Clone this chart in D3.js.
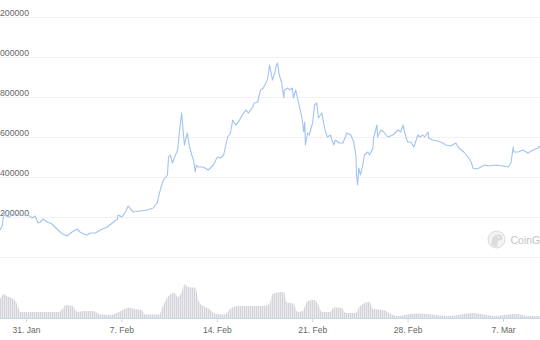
<!DOCTYPE html>
<html>
<head>
<meta charset="utf-8">
<script src="https://cdn.jsdelivr.net/npm/d3@7"></script>
<style>
  html, body { margin: 0; padding: 0; background: #fff; overflow: hidden; }
  svg { display: block; font-family: "Liberation Sans", Arial, sans-serif; }
</style>
</head>
<body>
<svg id="chart" width="540" height="340"></svg>
<script>
// --- data ---
const priceDates = [
  "2022-01-29 02","2022-01-29 06","2022-01-29 09","2022-01-29 13","2022-01-29 18","2022-01-30 01","2022-01-30 13",
  "2022-01-31 04","2022-01-31 11","2022-01-31 16","2022-01-31 21","2022-02-01 01","2022-02-01 06","2022-02-01 13",
  "2022-02-01 22","2022-02-02 03","2022-02-02 12","2022-02-02 17","2022-02-03 00","2022-02-03 09","2022-02-03 18",
  "2022-02-03 23","2022-02-04 05","2022-02-04 12","2022-02-04 17","2022-02-05 02","2022-02-05 11","2022-02-05 23",
  "2022-02-06 08","2022-02-06 17","2022-02-06 18","2022-02-07 01","2022-02-07 07","2022-02-07 12","2022-02-07 16",
  "2022-02-07 21","2022-02-08 09","2022-02-08 22","2022-02-09 08","2022-02-09 15","2022-02-09 19","2022-02-10 00",
  "2022-02-10 02","2022-02-10 09","2022-02-10 11","2022-02-10 14","2022-02-10 18","2022-02-10 21","2022-02-11 03",
  "2022-02-11 06","2022-02-11 10","2022-02-11 13","2022-02-11 15","2022-02-11 20","2022-02-12 00","2022-02-12 05",
  "2022-02-12 07","2022-02-12 10","2022-02-12 12","2022-02-12 15","2022-02-13 00","2022-02-13 09","2022-02-13 18",
  "2022-02-14 01","2022-02-14 06","2022-02-14 12","2022-02-14 19","2022-02-15 00","2022-02-15 04","2022-02-15 09",
  "2022-02-15 14","2022-02-15 21","2022-02-16 03","2022-02-16 08","2022-02-16 15","2022-02-16 18","2022-02-17 00",
  "2022-02-17 05","2022-02-17 10","2022-02-17 17","2022-02-17 21","2022-02-18 02","2022-02-18 06","2022-02-18 09",
  "2022-02-18 11","2022-02-18 14","2022-02-18 18","2022-02-18 22","2022-02-18 23","2022-02-19 05","2022-02-19 08",
  "2022-02-19 13","2022-02-19 15","2022-02-19 19","2022-02-20 00","2022-02-20 05","2022-02-20 07","2022-02-20 09",
  "2022-02-20 11","2022-02-20 12","2022-02-20 16","2022-02-20 19","2022-02-21 01","2022-02-21 04","2022-02-21 08",
  "2022-02-21 11","2022-02-21 17","2022-02-21 20","2022-02-22 00","2022-02-22 03","2022-02-22 08","2022-02-22 14",
  "2022-02-22 17","2022-02-22 23","2022-02-23 06","2022-02-23 13","2022-02-23 20","2022-02-24 01","2022-02-24 05",
  "2022-02-24 06","2022-02-24 08","2022-02-24 10","2022-02-24 13","2022-02-24 17","2022-02-24 20","2022-02-25 02",
  "2022-02-25 05","2022-02-25 11","2022-02-25 12","2022-02-25 18","2022-02-25 19","2022-02-26 01","2022-02-26 06",
  "2022-02-26 13","2022-02-26 22","2022-02-27 07","2022-02-27 12","2022-02-27 16","2022-02-27 17","2022-02-27 21",
  "2022-02-28 00","2022-02-28 06","2022-02-28 11","2022-02-28 14","2022-02-28 18","2022-02-28 22","2022-03-01 03",
  "2022-03-01 06","2022-03-01 12","2022-03-01 13","2022-03-01 20","2022-03-02 05","2022-03-02 14","2022-03-02 19",
  "2022-03-03 04","2022-03-03 13","2022-03-03 18","2022-03-04 03","2022-03-04 10","2022-03-04 16","2022-03-04 19",
  "2022-03-05 00","2022-03-05 06","2022-03-05 15","2022-03-05 23","2022-03-06 12","2022-03-07 00","2022-03-07 09",
  "2022-03-07 14","2022-03-07 18","2022-03-07 19","2022-03-08 03","2022-03-08 11","2022-03-08 20","2022-03-09 05",
  "2022-03-09 14","2022-03-09 19"
];
const priceValues = [
  135000,155000,225000,205000,200000,215000,210000,
  210000,195000,205000,170000,175000,190000,175000,
  165000,150000,125000,115000,105000,125000,140000,
  125000,115000,110000,120000,120000,135000,150000,
  170000,190000,210000,200000,225000,255000,240000,
  225000,230000,235000,245000,270000,320000,370000,
  385000,410000,500000,510000,470000,495000,535000,
  620000,720000,620000,560000,620000,550000,500000,
  485000,425000,460000,450000,450000,435000,460000,
  500000,495000,510000,600000,620000,685000,660000,
  675000,710000,735000,720000,750000,770000,775000,
  835000,845000,885000,960000,885000,920000,960000,
  970000,910000,875000,795000,835000,845000,835000,
  845000,795000,835000,770000,710000,675000,625000,
  675000,560000,620000,610000,675000,760000,770000,
  695000,720000,670000,620000,600000,610000,560000,
  585000,570000,570000,620000,610000,575000,510000,
  410000,360000,445000,410000,460000,510000,525000,
  510000,545000,595000,660000,600000,635000,625000,
  600000,610000,635000,625000,660000,645000,600000,
  575000,575000,550000,575000,610000,600000,610000,
  600000,625000,595000,585000,580000,570000,560000,
  555000,570000,545000,525000,500000,475000,445000,
  440000,445000,460000,455000,460000,455000,450000,
  470000,550000,525000,525000,535000,520000,535000,
  545000,560000
];

const volumeDates = [
  "2022-01-29 02","2022-01-29 10","2022-01-29 14","2022-01-29 23","2022-01-30 05","2022-01-30 12","2022-01-30 13",
  "2022-02-02 10","2022-02-02 16","2022-02-02 22","2022-02-03 09","2022-02-03 19","2022-02-04 05","2022-02-04 22",
  "2022-02-05 11","2022-02-06 04","2022-02-06 20","2022-02-07 14","2022-02-07 23","2022-02-08 11","2022-02-08 18",
  "2022-02-09 19","2022-02-10 00","2022-02-10 12","2022-02-10 21","2022-02-11 04","2022-02-11 10","2022-02-11 15",
  "2022-02-11 22","2022-02-12 03","2022-02-12 10","2022-02-12 16","2022-02-13 00","2022-02-13 11","2022-02-13 20",
  "2022-02-14 13","2022-02-15 02","2022-02-15 14","2022-02-16 15","2022-02-17 08","2022-02-17 21","2022-02-18 02",
  "2022-02-18 22","2022-02-19 03","2022-02-19 15","2022-02-19 22","2022-02-20 07","2022-02-20 16","2022-02-21 04",
  "2022-02-21 10","2022-02-21 17","2022-02-22 07","2022-02-22 14","2022-02-23 04","2022-02-23 11","2022-02-24 05",
  "2022-02-24 12","2022-02-25 05","2022-02-25 11","2022-02-26 06","2022-02-26 18","2022-02-27 07","2022-02-28 00",
  "2022-02-28 13","2022-03-01 19","2022-03-03 01","2022-03-04 19","2022-03-05 15","2022-03-06 08","2022-03-07 21",
  "2022-03-08 22","2022-03-09 19"
];
const volumeValues = [
  19,24,22,20,17,8,6,
  6,9,13,12,6,7,7,
  3.5,3,6,10.5,9,8,3.5,
  3.5,10.5,22.5,25,21,26,33.5,
  31,30.5,30.5,17,12,9,4.5,
  3.5,10,12,12,12,14,24,
  26,16,14,6,7,17,18,
  14,6,6,10.5,10,5,5,
  12,16,9,8,4,2,3.5,
  4.5,3.5,2,5,3.5,2,4,
  2,2
];

const yTicks = [200000, 400000, 600000, 800000, 1000000, 1200000];
const xTickDates = ["2022-01-31 00", "2022-02-07 00", "2022-02-14 00", "2022-02-21 00", "2022-02-28 00", "2022-03-07 00"];
const xTickLabels = ["31. Jan", "7. Feb", "14. Feb", "21. Feb", "28. Feb", "7. Mar"];

// --- setup ---
const parse = d3.timeParse("%Y-%m-%d %H");
const price = priceDates.map((d, i) => ({date: parse(d), value: priceValues[i]}));
const volume = volumeDates.map((d, i) => ({date: parse(d), value: volumeValues[i]}));

const svg = d3.select("#chart");

const x = d3.scaleTime()
    .domain([new Date(2022, 0, 29, 2, 11), new Date(2022, 2, 9, 17, 10)])
    .range([0, 540]);

const y = d3.scaleLinear()
    .domain([0, 1200000])
    .range([257, 17]);

const yVol = d3.scaleLinear()
    .domain([0, 35])
    .range([318, 283]);

// stripes for the volume bars
const defs = svg.append("defs");
const pat = defs.append("pattern")
    .attr("id", "stripes")
    .attr("patternUnits", "userSpaceOnUse")
    .attr("width", 2)
    .attr("height", 10);
pat.append("rect").attr("width", 2).attr("height", 10).attr("fill", "#ebebee");
pat.append("rect").attr("width", 1).attr("height", 10).attr("fill", "#d3d4d9");

// gridlines
svg.append("g")
    .selectAll("line")
    .data([0].concat(yTicks))
    .join("line")
    .attr("x1", 0)
    .attr("x2", 540)
    .attr("y1", d => Math.round(y(d)) + 0.5)
    .attr("y2", d => Math.round(y(d)) + 0.5)
    .attr("stroke", "#f1f1f1");

// y labels (the left part is cut off by the frame, as in the original)
svg.append("g")
    .selectAll("text")
    .data(yTicks)
    .join("text")
    .attr("x", 29)
    .attr("y", d => y(d) - 1.5)
    .attr("text-anchor", "end")
    .attr("font-size", 8.7)
    .attr("fill", "#666")
    .text(d => d3.format("d")(d));

// watermark
const wm = svg.append("g").attr("opacity", 0.9);
wm.append("circle").attr("cx", 496.5).attr("cy", 239.5).attr("r", 8.5)
    .attr("fill", "#f2f2f2").attr("stroke", "#d6d6d6").attr("stroke-width", 1);
wm.append("path")
    .attr("d", "M491.5,246 C491,240 493,234.5 498,234.5 C501,234.5 502.5,236.5 502.5,238.5 C502.5,240 500.5,240.5 499,240.5 C497.5,241.5 497,244 497.5,247 Z")
    .attr("fill", "#d9d9d9");
wm.append("circle").attr("cx", 498.5).attr("cy", 237.3).attr("r", 0.9).attr("fill", "#f2f2f2");
wm.append("text")
    .attr("x", 510.5).attr("y", 243.5)
    .attr("font-size", 10.5)
    .attr("fill", "#bdbdbd")
    .text("CoinGecko");

// volume
const volArea = d3.area()
    .x(d => x(d.date))
    .y0(yVol(0))
    .y1(d => yVol(d.value))
    .curve(d3.curveMonotoneX);

svg.append("path")
    .datum(volume)
    .attr("d", volArea)
    .attr("fill", "url(#stripes)");

// price line
const line = d3.line()
    .x(d => x(d.date))
    .y(d => y(d.value));

svg.append("path")
    .datum(price)
    .attr("d", line)
    .attr("fill", "none")
    .attr("stroke", "#a2c3f1")
    .attr("stroke-width", 1.1)
    .attr("stroke-linejoin", "round");

// x axis
const xAxis = svg.append("g")
    .attr("transform", "translate(0,318)")
    .call(d3.axisBottom(x)
        .tickValues(xTickDates.map(parse))
        .tickFormat((d, i) => xTickLabels[i])
        .tickSize(4)
        .tickPadding(5));

xAxis.select(".domain").attr("stroke", "#ccd6eb").attr("d", "M0,0.5H540");
xAxis.selectAll(".tick line").attr("stroke", "#ccd6eb");
xAxis.selectAll(".tick text")
    .attr("font-size", 8.5)
    .attr("fill", "#666")
    .attr("font-family", "Liberation Sans, Arial, sans-serif");
</script>
</body>
</html>
